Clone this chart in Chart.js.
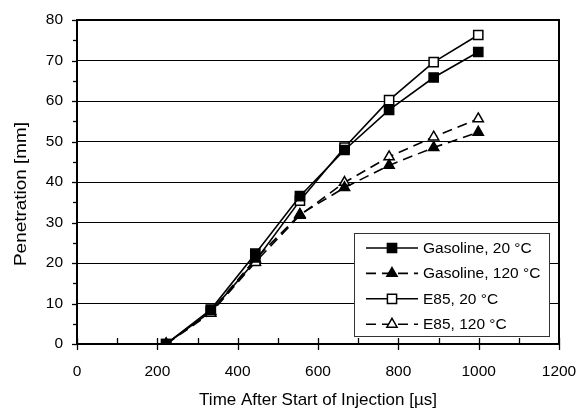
<!DOCTYPE html>
<html>
<head>
<meta charset="utf-8">
<script src="https://cdn.jsdelivr.net/npm/chart.js@4/dist/chart.umd.min.js"></script>
<style>
html,body{margin:0;padding:0;background:#fff;}
#wrap{width:578px;height:411px;position:relative;}
</style>
</head>
<body>
<div id="wrap"><canvas id="c" width="578" height="411"></canvas></div>
<script>
const timesUs = [222, 333, 444, 555, 666, 777, 888, 999];
const gasoline20 = [0, 8.5, 22.3, 36.5, 47.9, 57.8, 65.8, 72.1];
const gasoline120 = [0, 8.0, 21.0, 32.0, 38.6, 44.1, 48.5, 52.3];
const e85_20 = [0, 8.0, 20.5, 35.4, 48.5, 60.2, 69.6, 76.3];
const e85_120 = [0, 7.6, 20.2, 31.8, 39.9, 46.2, 51.1, 55.6];
const seriesNames = ['Gasoline, 20 °C', 'Gasoline, 120 °C', 'E85, 20 °C', 'E85, 120 °C'];
const xTitle = 'Time After Start of Injection [µs]';
const yTitle = 'Penetration [mm]';

const FONT = "'Liberation Sans', Arial, sans-serif";
const toXY = arr => arr.map((v, i) => ({x: timesUs[i], y: v}));

function ds(label, values, style, fill, dash) {
  return {
    label: label,
    data: toXY(values),
    borderColor: '#000',
    borderWidth: 1.6,
    borderDash: dash,
    pointStyle: style,
    pointRadius: style === 'rect' ? 6.5 : 5.9,
    pointBorderWidth: 1.5,
    pointBorderColor: '#000',
    pointBackgroundColor: fill,
    tension: 0,
    fill: false
  };
}

const datasets = [
  ds(seriesNames[0], gasoline20, 'rect', '#000', []),
  ds(seriesNames[1], gasoline120, 'triangle', '#000', [10, 6]),
  ds(seriesNames[2], e85_20, 'rect', '#fff', []),
  ds(seriesNames[3], e85_120, 'triangle', '#fff', [10, 6])
];

const decor = {
  id: 'decor',
  afterDraw(chart) {
    const ctx = chart.ctx;
    const a = chart.chartArea;
    const xs = chart.scales.x, ys = chart.scales.y;
    ctx.save();
    ctx.strokeStyle = '#000';
    // top and right border
    ctx.lineWidth = 2;
    ctx.beginPath();
    ctx.moveTo(a.left, a.top); ctx.lineTo(a.right, a.top); ctx.lineTo(a.right, a.bottom);
    ctx.stroke();
    // y ticks (outside)
    ctx.lineWidth = 1.3;
    for (let v = ys.min; v <= ys.max; v += 5) {
      const y = Math.round(ys.getPixelForValue(v)) + 0.5;
      const major = v % 10 === 0;
      ctx.beginPath();
      ctx.moveTo(a.left - (major ? 5 : 4), y); ctx.lineTo(a.left, y);
      ctx.stroke();
    }
    // x ticks: major cross, minor inside
    for (let v = xs.min; v <= xs.max; v += 100) {
      const x = Math.round(xs.getPixelForValue(v)) + 0.5;
      const major = v % 200 === 0;
      ctx.beginPath();
      ctx.moveTo(x, a.bottom - 6); ctx.lineTo(x, a.bottom + (major ? 6 : 0));
      ctx.stroke();
    }
    // y axis title (slightly stretched along its length, as in the reference)
    ctx.save();
    ctx.translate(21, 194);
    ctx.rotate(-Math.PI / 2);
    ctx.font = '16.5px ' + FONT;
    const tw = ctx.measureText(yTitle).width;
    ctx.scale(144 / tw, 1);
    ctx.fillStyle = '#000';
    ctx.textAlign = 'center';
    ctx.textBaseline = 'middle';
    ctx.fillText(yTitle, 0, 0);
    ctx.restore();
    // legend
    const bx = 354, by = 233, bw = 195, bh = 103;
    ctx.fillStyle = '#fff';
    ctx.fillRect(bx, by, bw, bh);
    ctx.strokeStyle = '#333';
    ctx.lineWidth = 1;
    ctx.strokeRect(bx + 0.5, by + 0.5, bw, bh);
    chart.data.datasets.forEach((d, i) => {
      const cy = 248 + i * 25.4;
      ctx.strokeStyle = '#000';
      ctx.lineWidth = d.borderWidth;
      ctx.setLineDash(d.borderDash || []);
      ctx.beginPath();
      ctx.moveTo(366, cy); ctx.lineTo(418, cy);
      ctx.stroke();
      ctx.setLineDash([]);
      ctx.fillStyle = d.pointBackgroundColor;
      ctx.strokeStyle = d.pointBorderColor;
      ctx.lineWidth = d.pointBorderWidth;
      Chart.helpers.drawPoint(ctx, {pointStyle: d.pointStyle, radius: d.pointRadius, rotation: 0, borderWidth: d.pointBorderWidth}, 392, cy);
      ctx.fillStyle = '#000';
      ctx.font = '15.5px ' + FONT;
      ctx.textBaseline = 'middle';
      ctx.textAlign = 'left';
      ctx.fillText(d.label, 423, cy + 0.5);
    });
    ctx.restore();
  }
};

function zeroPad(s) { s.paddingLeft = 0; s.paddingRight = 0; s.paddingTop = 0; s.paddingBottom = 0; }

new Chart(document.getElementById('c'), {
  type: 'line',
  data: {datasets: datasets},
  options: {
    responsive: false,
    animation: false,
    devicePixelRatio: 1,
    layout: {padding: {top: 20, right: 19, left: 0, bottom: 0}},
    plugins: {legend: {display: false}, tooltip: {enabled: false}},
    scales: {
      x: {
        type: 'linear',
        min: 0, max: 1200,
        ticks: {stepSize: 200, color: '#000', padding: 18, font: {family: FONT, size: 15.5}, maxRotation: 0,
                callback: v => String(v)},
        grid: {display: true, drawOnChartArea: false, drawTicks: false},
        border: {color: '#000', width: 2},
        title: {display: true, text: xTitle, color: '#000', font: {family: FONT, size: 17}, padding: {top: 0, bottom: 0}},
        afterFit(s) { s.height = 67; zeroPad(s); }
      },
      y: {
        min: 0, max: 80,
        ticks: {stepSize: 10, color: '#000', padding: 14, font: {family: FONT, size: 15.5},
                callback: v => String(v)},
        grid: {color: '#000', lineWidth: 1, drawTicks: false},
        border: {color: '#000', width: 2},
        title: {display: false},
        afterFit(s) { s.width = 77; zeroPad(s); }
      }
    }
  },
  plugins: [decor]
});
</script>
</body>
</html>
